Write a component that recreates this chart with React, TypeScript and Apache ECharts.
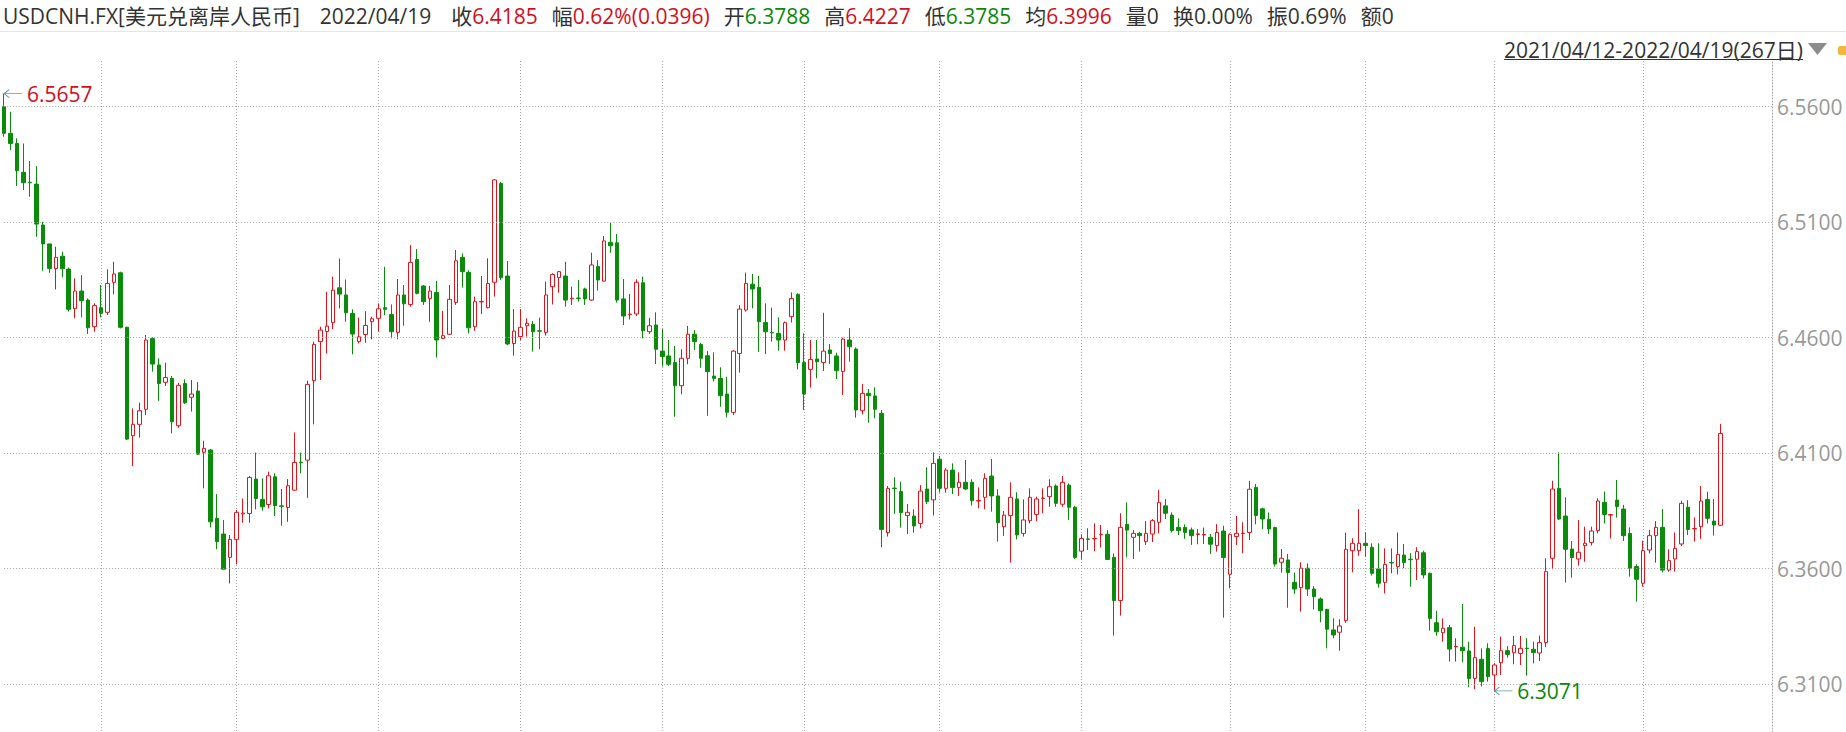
import React, { useEffect, useRef } from 'react';
import * as echarts from 'echarts';

const START_DATE = '2021-04-12';
const DAY_COUNT = 267;
const PAD_COUNT = 8;

const OPEN = [
  6.5600, 6.5485, 6.5441, 6.5316, 6.5273, 6.5265, 6.5088, 6.5006, 6.4899, 6.4953,
  6.4897, 6.4726, 6.4802, 6.4763, 6.4648, 6.4730, 6.4710, 6.4840, 6.4881, 6.4645,
  6.4176, 6.4225, 6.4290, 6.4596, 6.4482, 6.4407, 6.4424, 6.4219, 6.4402, 6.4342,
  6.4369, 6.4104, 6.4114, 6.3818, 6.3750, 6.3649, 6.3727, 6.3837, 6.3839, 6.3988,
  6.3900, 6.3878, 6.3998, 6.3872, 6.3865, 6.3940, 6.4061, 6.4070, 6.4414, 6.4583,
  6.4627, 6.4665, 6.4816, 6.4785, 6.4705, 6.4583, 6.4614, 6.4669, 6.4684, 6.4730,
  6.4701, 6.4623, 6.4785, 6.4744, 6.4939, 6.4824, 6.4770, 6.4796, 6.4597, 6.4615,
  6.4753, 6.4948, 6.4883, 6.4648, 6.4755, 6.4730, 6.4840, 6.5268, 6.4867, 6.4575,
  6.4605, 6.4652, 6.4658, 6.4630, 6.4623, 6.4821, 6.4861, 6.4867, 6.4769, 6.4772,
  6.4811, 6.4763, 6.4908, 6.4845, 6.5013, 6.5011, 6.4768, 6.4700, 6.4703, 6.4838,
  6.4626, 6.4655, 6.4542, 6.4521, 6.4493, 6.4392, 6.4511, 6.4615, 6.4571, 6.4522,
  6.4434, 6.4424, 6.4356, 6.4277, 6.4532, 6.4720, 6.4832, 6.4818, 6.4666, 6.4623,
  6.4619, 6.4590, 6.4691, 6.4788, 6.4493, 6.4463, 6.4508, 6.4493, 6.4547, 6.4521,
  6.4453, 6.4590, 6.4551, 6.4284, 6.4359, 6.4348, 6.4273, 6.3756, 6.3949, 6.3934,
  6.3830, 6.3828, 6.3796, 6.3945, 6.3898, 6.4074, 6.3948, 6.4027, 6.3952, 6.3974,
  6.3974, 6.3893, 6.3909, 6.4001, 6.3915, 6.3782, 6.3830, 6.3902, 6.3753, 6.3808,
  6.3835, 6.3904, 6.3912, 6.3958, 6.3879, 6.3962, 6.3866, 6.3676, 6.3729, 6.3729,
  6.3747, 6.3749, 6.3649, 6.3462, 6.3792, 6.3736, 6.3753, 6.3717, 6.3750, 6.3801,
  6.3872, 6.3832, 6.3779, 6.3779, 6.3768, 6.3748, 6.3746, 6.3736, 6.3700, 6.3763,
  6.3576, 6.3739, 6.3752, 6.3757, 6.3952, 6.3859, 6.3814, 6.3778, 6.3628, 6.3638,
  6.3541, 6.3518, 6.3602, 6.3512, 6.3469, 6.3424, 6.3335, 6.3325, 6.3375, 6.3678,
  6.3678, 6.3710, 6.3693, 6.3599, 6.3541, 6.3627, 6.3609, 6.3659, 6.3641, 6.3641,
  6.3669, 6.3580, 6.3366, 6.3323, 6.3345, 6.3262, 6.3260, 6.3244, 6.3125, 6.3208,
  6.3255, 6.3140, 6.3193, 6.3245, 6.3236, 6.3233, 6.3256, 6.3251, 6.3235, 6.3280,
  6.3645, 6.3948, 6.3828, 6.3685, 6.3642, 6.3700, 6.3714, 6.3765, 6.3887, 6.3832,
  6.3897, 6.3858, 6.3753, 6.3609, 6.3537, 6.3681, 6.3743, 6.3779, 6.3594, 6.3642,
  6.3707, 6.3866, 6.3772, 6.3782, 6.3900, 6.3806, 6.3788,
];

const CLOSE = [
  6.5485, 6.5441, 6.5323, 6.5271, 6.5271, 6.5092, 6.5006, 6.4900, 6.4948, 6.4899,
  6.4723, 6.4802, 6.4760, 6.4643, 6.4739, 6.4706, 6.4835, 6.4876, 6.4645, 6.4161,
  6.4225, 6.4284, 6.4590, 6.4486, 6.4402, 6.4428, 6.4236, 6.4394, 6.4318, 6.4356,
  6.4096, 6.4121, 6.3803, 6.3717, 6.3598, 6.3727, 6.3844, 6.3841, 6.3995, 6.3904,
  6.3868, 6.4002, 6.3873, 6.3870, 6.3959, 6.4060, 6.4059, 6.4398, 6.4571, 6.4633,
  6.4650, 6.4806, 6.4789, 6.4708, 6.4616, 6.4604, 6.4653, 6.4682, 6.4725, 6.4723,
  6.4626, 6.4785, 6.4747, 6.4926, 6.4792, 6.4756, 6.4802, 6.4590, 6.4609, 6.4766,
  6.4933, 6.4886, 6.4643, 6.4756, 6.4757, 6.4835, 6.5283, 6.4860, 6.4573, 6.4629,
  6.4645, 6.4662, 6.4626, 6.4628, 6.4785, 6.4874, 6.4886, 6.4763, 6.4771, 6.4770,
  6.4768, 6.4915, 6.4850, 6.5019, 6.4998, 6.4763, 6.4694, 6.4702, 6.4840, 6.4630,
  6.4652, 6.4550, 6.4518, 6.4485, 6.4392, 6.4511, 6.4615, 6.4583, 6.4511, 6.4453,
  6.4424, 6.4349, 6.4277, 6.4542, 6.4724, 6.4835, 6.4811, 6.4669, 6.4626, 6.4621,
  6.4590, 6.4665, 6.4770, 6.4492, 6.4356, 6.4506, 6.4496, 6.4542, 6.4532, 6.4457,
  6.4594, 6.4561, 6.4287, 6.4359, 6.4349, 6.4290, 6.3770, 6.3948, 6.3947, 6.3843,
  6.3844, 6.3785, 6.3936, 6.3890, 6.4056, 6.3948, 6.4027, 6.3952, 6.3974, 6.3945,
  6.3894, 6.3895, 6.3991, 6.3915, 6.3799, 6.3832, 6.3909, 6.3746, 6.3811, 6.3909,
  6.3902, 6.3906, 6.3955, 6.3883, 6.3974, 6.3866, 6.3649, 6.3731, 6.3727, 6.3731,
  6.3749, 6.3640, 6.3462, 6.3779, 6.3767, 6.3753, 6.3743, 6.3753, 6.3808, 6.3887,
  6.3840, 6.3765, 6.3765, 6.3757, 6.3743, 6.3751, 6.3748, 6.3706, 6.3757, 6.3648,
  6.3749, 6.3753, 6.3754, 6.3944, 6.3830, 6.3815, 6.3772, 6.3620, 6.3645, 6.3583,
  6.3512, 6.3602, 6.3512, 6.3479, 6.3418, 6.3338, 6.3313, 6.3352, 6.3684, 6.3710,
  6.3710, 6.3700, 6.3580, 6.3537, 6.3619, 6.3625, 6.3662, 6.3627, 6.3639, 6.3674,
  6.3573, 6.3385, 6.3327, 6.3342, 6.3252, 6.3264, 6.3245, 6.3125, 6.3215, 6.3111,
  6.3133, 6.3183, 6.3245, 6.3229, 6.3267, 6.3255, 6.3254, 6.3237, 6.3280, 6.3587,
  6.3945, 6.3815, 6.3684, 6.3648, 6.3671, 6.3710, 6.3763, 6.3893, 6.3835, 6.3834,
  6.3869, 6.3743, 6.3602, 6.3554, 6.3678, 6.3743, 6.3779, 6.3594, 6.3635, 6.3688,
  6.3883, 6.3770, 6.3774, 6.3893, 6.3818, 6.3789, 6.4185,
];

const LOW = [
  6.5470, 6.5412, 6.5257, 6.5239, 6.5210, 6.5037, 6.4890, 6.4881, 6.4809, 6.4861,
  6.4713, 6.4684, 6.4688, 6.4616, 6.4626, 6.4688, 6.4698, 6.4788, 6.4640, 6.4157,
  6.4044, 6.4167, 6.4265, 6.4453, 6.4327, 6.4391, 6.4186, 6.4210, 6.4313, 6.4280,
  6.4092, 6.3948, 6.3779, 6.3684, 6.3597, 6.3536, 6.3619, 6.3799, 6.3799, 6.3857,
  6.3851, 6.3861, 6.3828, 6.3786, 6.3803, 6.3938, 6.4013, 6.3907, 6.4225, 6.4417,
  6.4532, 6.4637, 6.4727, 6.4669, 6.4528, 6.4575, 6.4578, 6.4593, 6.4626, 6.4698,
  6.4597, 6.4593, 6.4652, 6.4734, 6.4788, 6.4742, 6.4669, 6.4514, 6.4594, 6.4612,
  6.4742, 6.4817, 6.4619, 6.4630, 6.4703, 6.4727, 6.4778, 6.4850, 6.4568, 6.4522,
  6.4590, 6.4605, 6.4540, 6.4550, 6.4609, 6.4744, 6.4795, 6.4734, 6.4742, 6.4756,
  6.4742, 6.4760, 6.4804, 6.4843, 6.4968, 6.4752, 6.4655, 6.4679, 6.4694, 6.4597,
  6.4616, 6.4486, 6.4475, 6.4477, 6.4258, 6.4355, 6.4485, 6.4547, 6.4470, 6.4262,
  6.4410, 6.4301, 6.4255, 6.4265, 6.4449, 6.4713, 6.4727, 6.4539, 6.4529, 6.4583,
  6.4544, 6.4544, 6.4666, 6.4463, 6.4287, 6.4384, 6.4424, 6.4456, 6.4486, 6.4421,
  6.4352, 6.4496, 6.4254, 6.4268, 6.4232, 6.4251, 6.3693, 6.3739, 6.3837, 6.3778,
  6.3750, 6.3756, 6.3775, 6.3880, 6.3830, 6.3929, 6.3929, 6.3923, 6.3915, 6.3941,
  6.3873, 6.3861, 6.3857, 6.3847, 6.3717, 6.3742, 6.3626, 6.3727, 6.3739, 6.3796,
  6.3806, 6.3840, 6.3868, 6.3868, 6.3868, 6.3811, 6.3642, 6.3640, 6.3681, 6.3676,
  6.3692, 6.3638, 6.3310, 6.3397, 6.3649, 6.3642, 6.3674, 6.3703, 6.3715, 6.3753,
  6.3815, 6.3757, 6.3746, 6.3729, 6.3703, 6.3706, 6.3707, 6.3664, 6.3674, 6.3388,
  6.3515, 6.3703, 6.3667, 6.3724, 6.3792, 6.3771, 6.3750, 6.3609, 6.3583, 6.3431,
  6.3491, 6.3414, 6.3482, 6.3424, 6.3368, 6.3255, 6.3299, 6.3245, 6.3366, 6.3584,
  6.3656, 6.3652, 6.3570, 6.3518, 6.3493, 6.3580, 6.3576, 6.3602, 6.3522, 6.3551,
  6.3558, 6.3332, 6.3310, 6.3284, 6.3198, 6.3198, 6.3195, 6.3087, 6.3078, 6.3090,
  6.3111, 6.3071, 6.3140, 6.3215, 6.3186, 6.3183, 6.3137, 6.3190, 6.3200, 6.3260,
  6.3597, 6.3811, 6.3540, 6.3561, 6.3613, 6.3630, 6.3700, 6.3753, 6.3796, 6.3731,
  6.3821, 6.3720, 6.3566, 6.3457, 6.3522, 6.3666, 6.3626, 6.3584, 6.3587, 6.3587,
  6.3698, 6.3746, 6.3717, 6.3729, 6.3796, 6.3743, 6.3785,
];

const HIGH = [
  6.5657, 6.5578, 6.5463, 6.5441, 6.5365, 6.5343, 6.5102, 6.4916, 6.4994, 6.4972,
  6.4904, 6.4857, 6.4871, 6.4770, 6.4749, 6.4828, 6.4896, 6.4929, 6.4886, 6.4648,
  6.4294, 6.4319, 6.4612, 6.4602, 6.4511, 6.4492, 6.4434, 6.4405, 6.4420, 6.4417,
  6.4408, 6.4154, 6.4118, 6.3923, 6.3811, 6.3746, 6.3854, 6.3904, 6.4001, 6.4103,
  6.3991, 6.4020, 6.4013, 6.3945, 6.3988, 6.4190, 6.4103, 6.4414, 6.4583, 6.4648,
  6.4799, 6.4864, 6.4943, 6.4852, 6.4723, 6.4687, 6.4715, 6.4691, 6.4749, 6.4907,
  6.4744, 6.4854, 6.4828, 6.5001, 6.4984, 6.4828, 6.4824, 6.4846, 6.4716, 6.4828,
  6.4980, 6.4965, 6.4892, 6.4778, 6.4867, 6.4944, 6.5287, 6.5275, 6.4932, 6.4724,
  6.4724, 6.4684, 6.4672, 6.4687, 6.4843, 6.4879, 6.4889, 6.4929, 6.4821, 6.4850,
  6.4817, 6.4968, 6.4936, 6.5040, 6.5098, 6.5049, 6.4854, 6.4789, 6.4853, 6.4864,
  6.4686, 6.4710, 6.4638, 6.4590, 6.4564, 6.4550, 6.4651, 6.4633, 6.4578, 6.4542,
  6.4537, 6.4472, 6.4431, 6.4547, 6.4741, 6.4882, 6.4876, 6.4868, 6.4749, 6.4730,
  6.4688, 6.4670, 6.4796, 6.4792, 6.4619, 6.4590, 6.4590, 6.4708, 6.4573, 6.4535,
  6.4600, 6.4641, 6.4558, 6.4400, 6.4378, 6.4385, 6.4287, 6.3958, 6.3996, 6.3977,
  6.3880, 6.3857, 6.3962, 6.4039, 6.4104, 6.4088, 6.4035, 6.4056, 6.4017, 6.4071,
  6.3987, 6.3952, 6.4013, 6.4075, 6.3944, 6.3850, 6.3974, 6.3931, 6.3900, 6.3948,
  6.3912, 6.3948, 6.3987, 6.3965, 6.4001, 6.3969, 6.3872, 6.3749, 6.3775, 6.3796,
  6.3789, 6.3767, 6.3666, 6.3840, 6.3887, 6.3767, 6.3760, 6.3806, 6.3815, 6.3941,
  6.3902, 6.3844, 6.3818, 6.3792, 6.3778, 6.3772, 6.3778, 6.3750, 6.3793, 6.3786,
  6.3753, 6.3828, 6.3801, 6.3980, 6.3967, 6.3864, 6.3843, 6.3782, 6.3685, 6.3664,
  6.3583, 6.3628, 6.3623, 6.3525, 6.3476, 6.3426, 6.3385, 6.3381, 6.3756, 6.3732,
  6.3858, 6.3757, 6.3710, 6.3710, 6.3688, 6.3688, 6.3757, 6.3707, 6.3667, 6.3693,
  6.3678, 6.3583, 6.3418, 6.3385, 6.3356, 6.3299, 6.3447, 6.3284, 6.3349, 6.3255,
  6.3277, 6.3191, 6.3306, 6.3265, 6.3309, 6.3309, 6.3299, 6.3284, 6.3310, 6.3645,
  6.3981, 6.4104, 6.3909, 6.3720, 6.3811, 6.3782, 6.3782, 6.3905, 6.3934, 6.3837,
  6.3984, 6.3876, 6.3779, 6.3619, 6.3721, 6.3768, 6.3806, 6.3858, 6.3684, 6.3757,
  6.3894, 6.3897, 6.3822, 6.3958, 6.3933, 6.3902, 6.4227,
];

const Y_TICKS = [6.31, 6.36, 6.41, 6.46, 6.51, 6.56];
const Y_MIN = 6.2893;
const Y_MAX = 6.5798;

const HEADER_NAME = 'USDCNH.FX[美元兑离岸人民币]';
const HEADER_DATE = '2022/04/19';
const HEADER_FIELDS: [string, string, string][] = [
  ['收', '6.4185', 'up'],
  ['幅', '0.62%(0.0396)', 'up'],
  ['开', '6.3788', 'dn'],
  ['高', '6.4227', 'up'],
  ['低', '6.3785', 'dn'],
  ['均', '6.3996', 'up'],
  ['量', '0', 'k'],
  ['换', '0.00%', 'k'],
  ['振', '0.69%', 'k'],
  ['额', '0', 'k'],
];

const FONT = '"Open Sans", "Noto Sans CJK SC", sans-serif';
const RED = '#e0141c';
const GREEN = '#0a8c0a';
const RED_TEXT = '#d0101c';
const GREEN_TEXT = '#0b870b';
const GRID_COLOR = '#a6a6a6';

function buildDates(): string[] {
  const out: string[] = [];
  const d = new Date(START_DATE + 'T00:00:00Z');
  while (out.length < DAY_COUNT) {
    const wd = d.getUTCDay();
    if (wd !== 0 && wd !== 6) {
      const y = d.getUTCFullYear();
      const m = String(d.getUTCMonth() + 1).padStart(2, '0');
      const dd = String(d.getUTCDate()).padStart(2, '0');
      out.push(`${y}/${m}/${dd}`);
    }
    d.setUTCDate(d.getUTCDate() + 1);
  }
  return out;
}

export default function App() {
  const ref = useRef<HTMLDivElement>(null);

  useEffect(() => {
    const el = ref.current;
    if (!el) return;
    const chart = echarts.init(el, null, { renderer: 'svg' });

    const dates = buildDates();
    const categories = dates.concat(Array.from({ length: PAD_COUNT }, (_, i) => `pad${i}`));
    const monthStart = categories.map((c, i) =>
      i > 0 && i < dates.length && c.slice(5, 7) !== categories[i - 1].slice(5, 7)
    );
    const candles = OPEN.map((o, i) => [o, CLOSE[i], LOW[i], HIGH[i]]);

    let maxIdx = 0;
    let minIdx = 0;
    HIGH.forEach((v, i) => { if (v > HIGH[maxIdx]) maxIdx = i; });
    LOW.forEach((v, i) => { if (v < LOW[minIdx]) minIdx = i; });

    const headerText =
      `{k|${HEADER_NAME}}{w| }{k|${HEADER_DATE}}{w| }` +
      HEADER_FIELDS.map(([l, v, c]) => `{k|${l}}{${c}|${v}}`).join('{g| }');

    const rangeText = `${dates[0]}-${dates[dates.length - 1]}(${DAY_COUNT}日)`;
    let rangeWidth = 300;
    try {
      const ctx = document.createElement('canvas').getContext('2d');
      if (ctx) {
        ctx.font = `21px ${FONT}`;
        rangeWidth = ctx.measureText(rangeText).width;
      }
    } catch (e) { /* ignore */ }
    const rangeRight = 1803;

    const ARROW = 'path://M0,4 L18,4 M5,0 L0,4 L5,8';
    const rich = (color?: string, extra: any = {}) => ({
      fontSize: 21,
      fontWeight: 'normal',
      fontFamily: FONT,
      ...(color ? { color } : {}),
      ...extra,
    });

    chart.setOption({
      animation: false,
      backgroundColor: '#ffffff',
      textStyle: { fontFamily: FONT },
      title: {
        text: headerText,
        left: 3,
        top: 3,
        padding: 0,
        textStyle: {
          fontSize: 21,
          fontWeight: 'normal',
          lineHeight: 26,
          color: '#333333',
          rich: {
            k: rich('#333333'),
            up: rich(RED_TEXT),
            dn: rich(GREEN_TEXT),
            g: rich(undefined, { width: 14 }),
            w: rich(undefined, { width: 20 }),
          },
        },
      },
      grid: {
        left: 4.2,
        right: 74,
        top: 61,
        bottom: 0,
        outerBoundsMode: 'none',
        containLabel: false,
      },
      xAxis: {
        type: 'category',
        data: categories,
        boundaryGap: false,
        axisLine: { show: false },
        axisTick: { show: false },
        axisLabel: { show: false },
        splitLine: {
          show: true,
          interval: (idx: number) => !!monthStart[idx],
          lineStyle: { color: GRID_COLOR, type: [1, 2], width: 1 },
        },
      },
      yAxis: {
        type: 'value',
        position: 'right',
        scale: true,
        min: Y_MIN,
        max: Y_MAX,
        axisLine: { show: true, lineStyle: { color: GRID_COLOR, type: [1, 2], width: 1 } },
        axisTick: { show: false },
        axisLabel: { show: false },
        splitLine: { show: false },
      },
      series: [
        {
          type: 'candlestick',
          data: candles,
          barWidth: 4,
          clip: false,
          silent: true,
          itemStyle: {
            color: '#ffffff',
            color0: GREEN,
            borderColor: RED,
            borderColor0: GREEN,
            borderWidth: 1,
          },
          markLine: {
            silent: true,
            symbol: ['none', 'none'],
            precision: 4,
            lineStyle: { color: GRID_COLOR, type: [1, 2], width: 1 },
            label: {
              show: true,
              position: 'end',
              distance: 5,
              color: '#999999',
              fontSize: 21,
              fontFamily: FONT,
              formatter: (p: any) => Number(p.value).toFixed(4),
            },
            emphasis: { disabled: true },
            data: Y_TICKS.map((v) => ({ yAxis: v })),
          },
          markPoint: {
            silent: true,
            symbol: ARROW,
            symbolSize: [18, 8],
            symbolOffset: [9, 0],
            symbolKeepAspect: false,
            itemStyle: { color: 'none', borderColor: '#5a9ea6', borderWidth: 1 },
            label: {
              show: true,
              position: 'right',
              distance: 1,
              fontSize: 21,
              fontFamily: FONT,
              formatter: (p: any) => Number(p.value).toFixed(4),
            },
            data: [
              {
                coord: [dates[maxIdx], HIGH[maxIdx]],
                value: HIGH[maxIdx],
                label: { color: RED_TEXT },
              },
              {
                coord: [dates[minIdx], LOW[minIdx]],
                value: LOW[minIdx],
                label: { color: GREEN_TEXT },
              },
            ],
          },
        },
      ],
      graphic: [
        {
          type: 'line',
          silent: true,
          shape: { x1: 0, y1: 31.5, x2: 1846, y2: 31.5 },
          style: { stroke: '#e6e6e6', lineWidth: 1 },
        },
        {
          type: 'text',
          silent: true,
          x: rangeRight,
          y: 50,
          style: {
            text: rangeText,
            fill: '#333333',
            fontSize: 21,
            fontFamily: FONT,
            align: 'right',
            verticalAlign: 'middle',
          },
        },
        {
          type: 'line',
          silent: true,
          shape: { x1: rangeRight - rangeWidth, y1: 59.5, x2: rangeRight, y2: 59.5 },
          style: { stroke: '#333333', lineWidth: 1 },
        },
        {
          type: 'polygon',
          silent: true,
          shape: { points: [[1808, 43], [1827, 43], [1817.5, 55]] },
          style: { fill: '#8c8c8c' },
        },
        {
          type: 'rect',
          silent: true,
          shape: { x: 1838, y: 46, width: 10, height: 9, r: 2 },
          style: { fill: '#f2b73e' },
        },
      ],
    });

    return () => chart.dispose();
  }, []);

  return (
    <div
      ref={ref}
      style={{ position: 'fixed', left: 0, top: 0, width: 1846, height: 732, background: '#ffffff' }}
    />
  );
}
